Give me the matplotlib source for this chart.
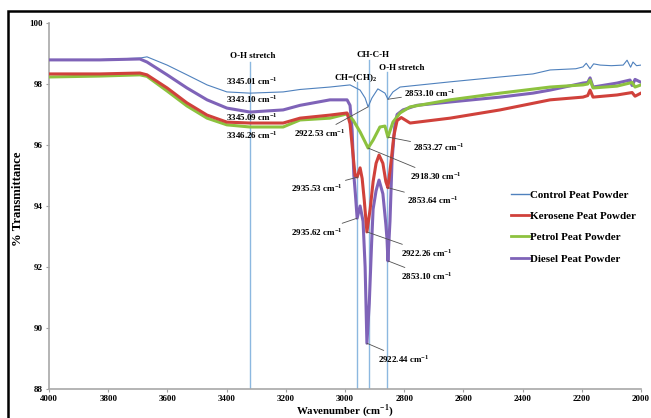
import matplotlib
matplotlib.use('Agg')
import matplotlib.pyplot as plt
from matplotlib.patches import Rectangle

plt.rcParams['font.family'] = ['Liberation Serif', 'DejaVu Serif']
plt.rcParams['font.weight'] = 'bold'
plt.rcParams['mathtext.fontset'] = 'custom'
plt.rcParams['mathtext.rm'] = 'Liberation Serif:bold'

# Control peat powder
control_wn = [4000, 3828, 3693, 3669, 3601, 3534, 3466, 3399, 3321, 3209, 3152, 3051, 2983,
              2949, 2932, 2922, 2909, 2889, 2865, 2855, 2838, 2814, 2645, 2476, 2365, 2307,
              2220, 2196, 2185, 2172, 2160, 2138, 2100, 2060, 2047, 2035, 2027, 2015, 2000]
control_t = [98.80, 98.80, 98.85, 98.89, 98.62, 98.30, 97.97, 97.74, 97.70, 97.74, 97.82, 97.90, 97.97,
             97.80, 97.54, 97.25, 97.54, 97.84, 97.70, 97.50, 97.74, 97.90, 98.07, 98.23, 98.33, 98.46,
             98.50, 98.56, 98.68, 98.50, 98.66, 98.62, 98.60, 98.62, 98.78, 98.55, 98.72, 98.60, 98.62]

# Kerosene peat powder
kerosene_wn = [4000, 3828, 3693, 3669, 3601, 3534, 3466, 3399, 3321, 3209, 3152, 3051, 2993, 2983,
               2976, 2966, 2959, 2949, 2942, 2935, 2926, 2915, 2905, 2895, 2885, 2872, 2862, 2855,
               2845, 2835, 2824, 2810, 2780, 2645, 2476, 2307, 2196, 2180, 2172, 2162, 2081, 2030,
               2020, 2000]
kerosene_t = [98.33, 98.33, 98.36, 98.30, 97.87, 97.38, 96.98, 96.75, 96.72, 96.72, 96.88, 96.98, 97.05, 96.70,
              96.00, 95.00, 94.95, 95.25, 94.90, 94.20, 93.15, 93.90, 94.80, 95.40, 95.67, 95.40, 94.80, 94.60,
              95.40, 96.30, 96.80, 96.90, 96.72, 96.88, 97.15, 97.48, 97.57, 97.62, 97.80, 97.57, 97.64, 97.72,
              97.60, 97.70]

# Petrol peat powder
petrol_wn = [4000, 3828, 3693, 3669, 3601, 3534, 3466, 3399, 3321, 3209, 3152, 3051, 2993, 2973,
             2949, 2932, 2922, 2905, 2882, 2865, 2855, 2838, 2814, 2780, 2645, 2476, 2307, 2196,
             2180, 2172, 2162, 2081, 2030, 2020, 2000]
petrol_t = [98.23, 98.26, 98.30, 98.25, 97.77, 97.28, 96.88, 96.66, 96.59, 96.59, 96.82, 96.88, 97.02, 96.82,
            96.43, 96.10, 95.90, 96.16, 96.59, 96.62, 96.26, 96.75, 97.05, 97.25, 97.48, 97.70, 97.90, 97.97,
            98.00, 98.13, 97.87, 97.93, 98.05, 97.90, 97.97]

# Diesel peat powder
diesel_wn = [4000, 3828, 3693, 3669, 3601, 3534, 3466, 3399, 3321, 3209, 3152, 3051, 2993, 2983,
             2976, 2970, 2965, 2959, 2949, 2939, 2932, 2926, 2918, 2910, 2905, 2895, 2885, 2872,
             2862, 2858, 2855, 2848, 2841, 2832, 2824, 2804, 2757, 2645, 2476, 2365, 2307, 2196,
             2180, 2172, 2162, 2081, 2037, 2030, 2020, 2003]
diesel_t = [98.79, 98.79, 98.82, 98.72, 98.30, 97.87, 97.48, 97.21, 97.08, 97.15, 97.30, 97.48, 97.48, 97.30,
            96.50, 95.00, 94.40, 93.60, 94.00, 93.50, 92.00, 89.50, 90.80, 92.80, 93.90, 94.50, 94.85, 94.40,
            93.40, 92.90, 92.20, 93.50, 95.50, 96.60, 97.00, 97.15, 97.30, 97.41, 97.57, 97.70, 97.80, 98.03,
            98.05, 98.20, 97.90, 98.03, 98.13, 97.95, 98.15, 98.07]

# band markers (wavenumber, top of line in axes fraction)
band_lines = [(3320, 0.893), (2960, 0.839), (2920, 0.899), (2857, 0.866)]

fig = plt.figure(figsize=(6.51, 4.18), dpi=100)
ax = fig.add_axes([0.0753, 0.0694, 0.9093, 0.8756])

for wn, top in band_lines:
    ax.axvline(wn, ymin=0, ymax=top, color='#8CB8E0', lw=1.0, zorder=1)

ax.plot(control_wn, control_t, color='#4F81BD', lw=0.8, label='Control Peat Powder', zorder=2)
ax.plot(diesel_wn, diesel_t, color='#7F63B8', lw=2.2, label='Diesel Peat Powder', zorder=3)
ax.plot(petrol_wn, petrol_t, color='#8DC23F', lw=2.2, label='Petrol Peat Powder', zorder=4)
ax.plot(kerosene_wn, kerosene_t, color='#D0413B', lw=2.2, label='Kerosene Peat Powder', zorder=5)

ax.set_xlim(4000, 2000)
ax.set_ylim(88, 100)
ax.set_xticks(range(4000, 1999, -200))
ax.set_yticks(range(88, 101, 2))
ax.tick_params(labelsize=6.5, length=2.5, color='#A0A0A0', width=0.8, pad=2)
for lab in ax.get_xticklabels() + ax.get_yticklabels():
    lab.set_fontweight('bold')
for s in ['top', 'right']:
    ax.spines[s].set_visible(False)
for s in ['left', 'bottom']:
    ax.spines[s].set_color('#A8A8A8')
    ax.spines[s].set_linewidth(1.2)

ax.set_xlabel('Wavenumber (cm$^{\\mathregular{-1}}$)', fontsize=7.8, fontweight='bold')
ax.xaxis.set_label_coords(0.50, -0.036)
ax.set_ylabel('% Transmittance', fontsize=9.2, fontweight='bold')
ax.yaxis.set_label_coords(-0.043, 0.52)

fs = 6.5
cm = ' cm$^{\\mathregular{-1}}$'
# band titles and O-H labels
ax.text(3311, 98.92, 'O-H stretch', ha='center', va='center', fontsize=fs)
for y, t in [(98.10, '3345.01'), (97.51, '3343.10'), (96.92, '3345.09'), (96.33, '3346.26')]:
    ax.text(3314, y, t + cm, ha='center', va='center', fontsize=fs)
ax.text(2905, 98.95, 'CH-C-H', ha='center', va='center', fontsize=fs)
ax.text(2807, 98.52, 'O-H stretch', ha='center', va='center', fontsize=fs)
ax.text(2966, 98.20, 'CH=(CH)$_{\\mathregular{2}}$', ha='center', va='center', fontsize=fs)

# peak labels with leader lines
peak_notes = [
    ('2853.10', (2855, 97.50), (2713, 97.70)),
    ('2922.53', (2922, 97.25), (3084, 96.39)),
    ('2853.27', (2855, 96.26), (2682, 95.93)),
    ('2918.30', (2922, 95.90), (2693, 94.98)),
    ('2853.64', (2855, 94.60), (2703, 94.20)),
    ('2935.53', (2956, 94.95), (3095, 94.59)),
    ('2935.62', (2959, 93.60), (3095, 93.15)),
    ('2922.26', (2926, 93.15), (2723, 92.46)),
    ('2853.10', (2855, 92.20), (2723, 91.70)),
    ('2922.44', (2926, 89.50), (2801, 88.98)),
]
for t, xy, xyt in peak_notes:
    ax.annotate(t + cm, xy=xy, xytext=xyt, ha='center', va='center', fontsize=fs,
                arrowprops=dict(arrowstyle='-', color='#505050', lw=0.6,
                                shrinkA=0, shrinkB=0), zorder=6)

h, l = ax.get_legend_handles_labels()
order = [0, 3, 2, 1]
leg = ax.legend([h[i] for i in order], [l[i] for i in order], loc='upper left',
                bbox_to_anchor=(0.772, 0.558), frameon=False, fontsize=7.9,
                handlelength=1.6, handletextpad=0.1, labelspacing=1.05, borderpad=0)
for line in leg.get_lines():
    line.set_linewidth(2.0 if line.get_color() != '#4F81BD' else 1.0)

# black frame around the figure
fig.patches.append(Rectangle((8 / 651, -0.05), 1.0, 1 - 11 / 418 + 0.05, transform=fig.transFigure,
                             fill=False, edgecolor='black', lw=1.8))

fig.savefig('out.png', dpi=100)
